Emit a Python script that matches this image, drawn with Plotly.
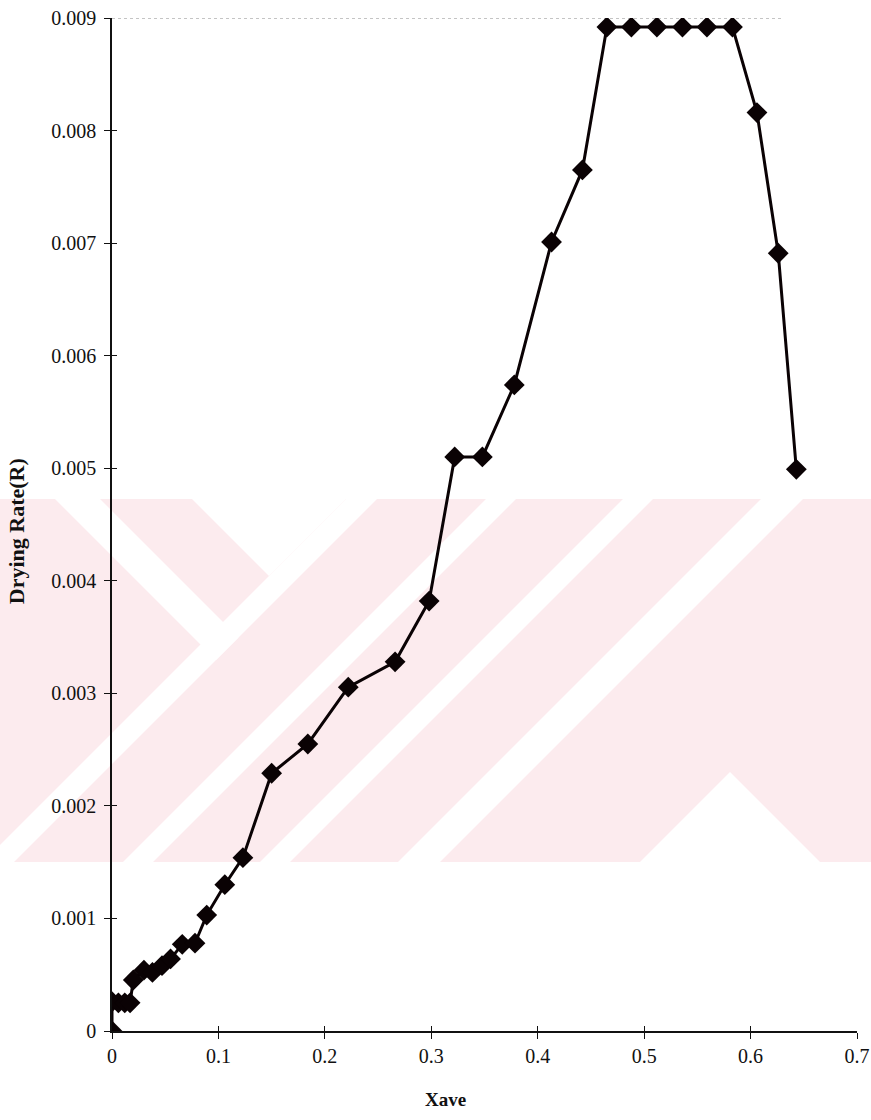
import plotly.graph_objects as go

# Average moisture content vs. drying rate
xave = [0.0, 0.0, 0.006, 0.012, 0.017, 0.020, 0.030, 0.038, 0.047, 0.055,
        0.066, 0.078, 0.089, 0.106, 0.123, 0.150, 0.184, 0.222, 0.266, 0.298,
        0.322, 0.348, 0.378, 0.413, 0.442, 0.465, 0.488, 0.512, 0.536, 0.559,
        0.583, 0.606, 0.626, 0.643]
drying_rate = [0.0, 0.00026, 0.00025, 0.00025, 0.00025, 0.000453, 0.00054, 0.00052,
               0.00058, 0.00064, 0.00077, 0.00078, 0.00103, 0.00130, 0.00154,
               0.00229, 0.00255, 0.003055, 0.00328, 0.00382, 0.00510, 0.00510,
               0.00574, 0.00701, 0.00765, 0.00892, 0.00892, 0.00892, 0.00892,
               0.00892, 0.00892, 0.00816, 0.00691, 0.00499]

x_ticks = [0, 0.1, 0.2, 0.3, 0.4, 0.5, 0.6, 0.7]
x_ticktext = ["0", "0.1", "0.2", "0.3", "0.4", "0.5", "0.6", "0.7"]
y_ticks = [0, 0.001, 0.002, 0.003, 0.004, 0.005, 0.006, 0.007, 0.008, 0.009]
y_ticktext = ["0", "0.001", "0.002", "0.003", "0.004", "0.005", "0.006",
              "0.007", "0.008", "0.009"]

X_RANGE = [0, 0.7]
Y_RANGE = [0, 0.009]
SERIF = "Liberation Serif, Times New Roman, serif"

W, H = 871, 1120
M_L, M_R, M_T, M_B = 112, 14, 18, 89
PLOT_W = W - M_L - M_R
PLOT_H = H - M_T - M_B


def to_paper(px, py):
    """Page pixel position -> paper coordinates."""
    return (px - M_L) / PLOT_W, (H - M_B - py) / PLOT_H


def polygon(points, color):
    pts = [to_paper(px, py) for px, py in points]
    path = "M " + " L ".join(f"{x:.5f},{y:.5f}" for x, y in pts) + " Z"
    return dict(type="path", xref="paper", yref="paper", path=path,
                fillcolor=color, line=dict(width=0), layer="below")


# Faint background page mark: a pink band cut by white diagonal gaps
MARK_TOP, MARK_BOTTOM = 499, 862
PINK, WHITE = "#fcebee", "#ffffff"
mark = [polygon([(0, MARK_TOP), (W, MARK_TOP), (W, MARK_BOTTOM), (0, MARK_BOTTOM)], PINK)]
for s1, s2 in [(845, 876), (985, 1015), (1122, 1152), (1260, 1302)]:
    mark.append(polygon([(s1 - MARK_TOP, MARK_TOP), (s2 - MARK_TOP, MARK_TOP),
                         (s2 - MARK_BOTTOM, MARK_BOTTOM), (s1 - MARK_BOTTOM, MARK_BOTTOM)], WHITE))
mark.append(polygon([(55, MARK_TOP), (100, MARK_TOP), (238.5, 637.5), (216, 660)], WHITE))
mark.append(polygon([(192, MARK_TOP), (346, MARK_TOP), (269, 576)], WHITE))
mark.append(polygon([(640, MARK_BOTTOM), (820, MARK_BOTTOM), (730, 772)], WHITE))

fig = go.Figure()
fig.add_trace(go.Scatter(
    x=xave, y=drying_rate, mode="lines+markers",
    line=dict(color="#0a0204", width=3),
    marker=dict(symbol="diamond", size=16, color="#0a0204"),
    showlegend=False, hoverinfo="x+y",
))
# invisible trace carrying the secondary axes (inner half of the cross ticks)
fig.add_trace(go.Scatter(x=[X_RANGE[0]], y=[Y_RANGE[0]], xaxis="x2", yaxis="y2",
                         mode="markers", marker=dict(opacity=0),
                         showlegend=False, hoverinfo="skip"))

axis_font = dict(family=SERIF, size=20, color="#111")
fig.update_layout(
    width=W, height=H,
    margin=dict(l=M_L, r=M_R, t=M_T, b=M_B),
    paper_bgcolor="white", plot_bgcolor="rgba(0,0,0,0)",
    xaxis=dict(range=X_RANGE, tickvals=x_ticks, ticktext=x_ticktext,
               showgrid=False, zeroline=False, showline=True, automargin=False,
               linecolor="#111", linewidth=1.5, ticks="outside", ticklen=6,
               tickcolor="#111", tickfont=axis_font),
    yaxis=dict(range=Y_RANGE, tickvals=y_ticks, ticktext=y_ticktext,
               showgrid=False, zeroline=False, showline=True, automargin=False,
               linecolor="#111", linewidth=1.5, ticks="outside", ticklen=6,
               tickcolor="#111", tickfont=axis_font, ticklabelstandoff=4),
    xaxis2=dict(range=X_RANGE, tickvals=x_ticks, overlaying="x", anchor="y2",
                side="bottom", showgrid=False, zeroline=False, showline=False,
                ticks="inside", ticklen=5, tickcolor="#111", automargin=False,
                showticklabels=False),
    yaxis2=dict(range=Y_RANGE, tickvals=y_ticks, overlaying="y", anchor="x2",
                side="left", showgrid=False, zeroline=False, showline=False,
                ticks="inside", ticklen=5, tickcolor="#111", automargin=False,
                showticklabels=False),
    shapes=mark + [
        dict(type="line", xref="x", yref="y", x0=0, x1=0.63,
             y0=Y_RANGE[1], y1=Y_RANGE[1],
             line=dict(color="#8a8a8a", width=1, dash="dot"), layer="below"),
    ],
    annotations=[
        dict(text="<b>Xave</b>", xref="paper", yref="paper", x=0.447, y=-0.068,
             xanchor="center", yanchor="middle", showarrow=False,
             font=dict(family=SERIF, size=19, color="#111")),
        dict(text="<b>Drying Rate(R)</b>", xref="paper", yref="paper",
             x=-0.128, y=0.493, xanchor="center", yanchor="middle",
             textangle=-90, showarrow=False,
             font=dict(family=SERIF, size=22, color="#111")),
    ],
)

fig.write_html("out.html")
